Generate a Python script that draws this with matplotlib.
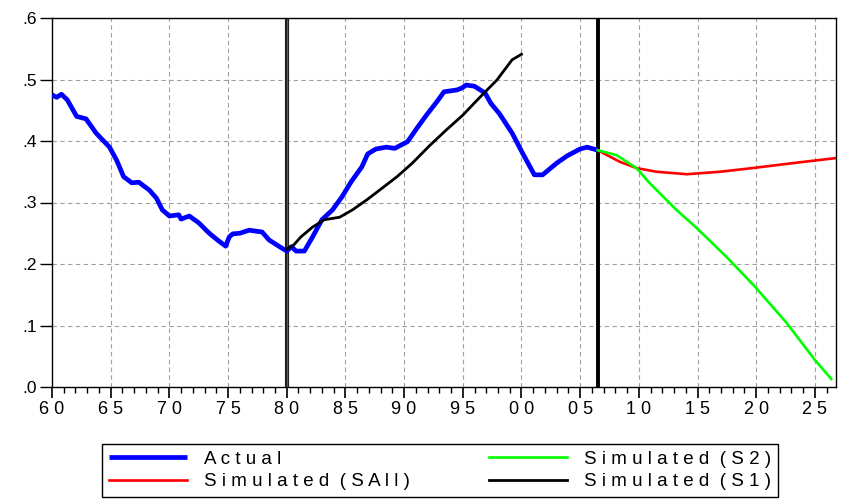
import matplotlib.pyplot as plt
from matplotlib.ticker import MultipleLocator, FixedLocator

actual_year = [1960.0, 1960.4, 1960.8, 1961.3, 1962.1, 1962.9, 1963.75, 1964.9, 1965.5,
               1966.1, 1966.8, 1967.4, 1968.3, 1968.9, 1969.4, 1970.0, 1970.8, 1971.0,
               1971.7, 1972.5, 1973.4, 1974.1, 1974.8, 1975.1, 1975.4, 1976.0, 1976.8,
               1977.9, 1978.5, 1979.4, 1980.0, 1980.4, 1980.8, 1981.5, 1982.2, 1983.0,
               1983.9, 1984.7, 1985.5, 1986.4, 1986.9, 1987.6, 1988.5, 1989.2, 1990.3,
               1991.1, 1991.9, 1992.8, 1993.4, 1994.5, 1994.9, 1995.3, 1996.0, 1996.9,
               1997.4, 1998.1, 1999.2, 2000.1, 2001.1, 2001.8, 2003.0, 2003.9, 2005.0,
               2005.6, 2006.5]
actual_val = [0.475, 0.471, 0.476, 0.467, 0.440, 0.436, 0.413, 0.390, 0.369,
              0.342, 0.332, 0.333, 0.320, 0.307, 0.288, 0.278, 0.280, 0.273,
              0.278, 0.267, 0.250, 0.239, 0.229, 0.244, 0.249, 0.250, 0.255,
              0.252, 0.239, 0.228, 0.221, 0.228, 0.221, 0.221, 0.244, 0.272,
              0.288, 0.309, 0.334, 0.358, 0.379, 0.387, 0.390, 0.388, 0.399,
              0.421, 0.442, 0.464, 0.480, 0.483, 0.486, 0.491, 0.489, 0.478,
              0.461, 0.445, 0.413, 0.380, 0.345, 0.345, 0.364, 0.376, 0.387,
              0.390, 0.385]

# Simulated (S1)
s1_year = [1980.0, 1980.6, 1981.2, 1982.2, 1983.2, 1984.5, 1985.6, 1986.8, 1987.9,
           1989.4, 1990.7, 1992.2, 1993.6, 1995.0, 1996.4, 1997.9, 1999.2, 2000.0]
s1_val = [0.224, 0.231, 0.244, 0.260, 0.272, 0.276, 0.288, 0.304, 0.320,
          0.342, 0.364, 0.393, 0.418, 0.442, 0.470, 0.499, 0.532, 0.541]

# Simulated (SAll)
sall_year = [2006.5, 2008.4, 2009.8, 2011.5, 2014.1, 2016.9, 2019.7, 2023.1, 2026.7]
sall_val = [0.385, 0.366, 0.356, 0.350, 0.346, 0.350, 0.356, 0.364, 0.372]

# Simulated (S2)
s2_year = [2006.5, 2008.1, 2009.8, 2010.9, 2013.2, 2014.9, 2017.5, 2019.9, 2022.6,
           2025.0, 2026.4]
s2_val = [0.385, 0.377, 0.356, 0.332, 0.288, 0.259, 0.211, 0.163, 0.104,
          0.044, 0.013]

y_ticks = [0.0, 0.1, 0.2, 0.3, 0.4, 0.5, 0.6]
y_ticklabels = ['.0', '.1', '.2', '.3', '.4', '.5', '.6']
x_ticks = list(range(1960, 2030, 5))
x_ticklabels = ['6 0', '6 5', '7 0', '7 5', '8 0', '8 5', '9 0', '9 5',
                '0 0', '0 5', '1 0', '1 5', '2 0', '2 5']
vlines = [1980.0, 2006.5]

plt.rcParams['font.family'] = ['Liberation Sans', 'DejaVu Sans']

fig = plt.figure(figsize=(8.41, 4.99), dpi=100)
ax = fig.add_axes([52 / 841, 1 - 387 / 499, (836 - 52) / 841, (387 - 18) / 499])

# grid
for x in x_ticks:
    if x != 1960:
        ax.axvline(x, color='#a0a0a0', lw=0.8, ls=(0, (4, 3)), zorder=0)
for y in y_ticks[1:]:
    ax.axhline(y, color='#a0a0a0', lw=0.8, ls=(0, (4, 3)), zorder=0)

# separator lines
ax.axvline(vlines[0], color='#202020', lw=3.0, zorder=1)
ax.axvline(vlines[0], color='#6a6a6a', lw=0.6, zorder=1)
ax.axvline(vlines[1], color='black', lw=2.8, zorder=1)

l_act, = ax.plot(actual_year, actual_val, color='#0000ff', lw=3.4, zorder=3,
                 solid_capstyle='butt')
l_sall, = ax.plot(sall_year, sall_val, color='#ff0000', lw=1.9, zorder=4)
l_s2, = ax.plot(s2_year, s2_val, color='#00ff00', lw=1.9, zorder=5)
l_s1, = ax.plot(s1_year, s1_val, color='black', lw=2.0, zorder=4)

ax.set_xlim(1960, 2026.8)
ax.set_ylim(0, 0.6)

ax.yaxis.set_major_locator(FixedLocator(y_ticks))
ax.set_yticklabels(y_ticklabels, fontsize=12.5)
ax.xaxis.set_major_locator(FixedLocator(x_ticks))
ax.set_xticklabels(x_ticklabels, fontsize=13)
ax.xaxis.set_minor_locator(MultipleLocator(1))
ax.tick_params(axis='y', direction='out', length=9, width=1, pad=2)
ax.tick_params(axis='x', which='major', direction='out', length=8, width=1.2, pad=2)
ax.tick_params(axis='x', which='minor', direction='out', length=4, width=1)

for sp in ax.spines.values():
    sp.set_linewidth(1.0)
    sp.set_color('black')

handles = [l_act, l_sall, l_s2, l_s1]
labels = ['A c t u a l', 'S i m u l a t e d  ( S A l l )',
          'S i m u l a t e d  ( S 2 )', 'S i m u l a t e d  ( S 1 )']
leg = fig.legend(handles, labels, loc='lower left', ncol=2, mode='expand',
                 bbox_to_anchor=(102 / 841, 2 / 499, 676 / 841, 56 / 499),
                 borderaxespad=0, fontsize=13.5, handlelength=4.2,
                 handletextpad=0.9, labelspacing=0.3, borderpad=0.35,
                 fancybox=False, edgecolor='black', framealpha=1)
leg.get_frame().set_linewidth(1.0)

fig.savefig('out.png', dpi=100)
